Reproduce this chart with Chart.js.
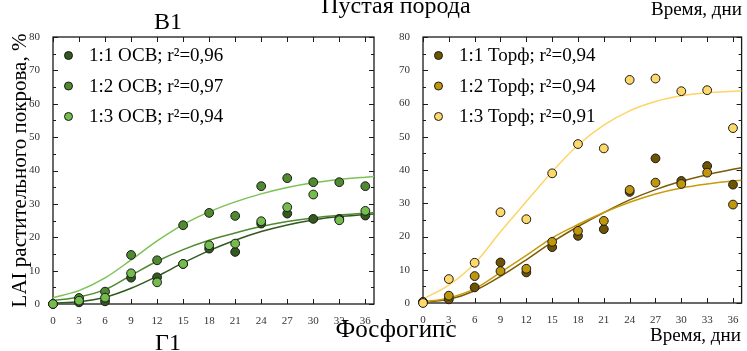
<!DOCTYPE html>
<html>
<head>
<meta charset="utf-8">
<script src="https://cdn.jsdelivr.net/npm/chart.js@4.4.1/dist/chart.umd.min.js"></script>
<style>
  html, body { margin: 0; padding: 0; background: #fff; }
  #page { position: relative; width: 747px; height: 351px; overflow: hidden; font-family: 'Liberation Serif', serif; color: #000; }
  .lbl { position: absolute; white-space: nowrap; line-height: 1; }
  #left { position: absolute; left: 0; top: 0; }
  #right { position: absolute; left: 380px; top: 0; }
</style>
</head>
<body>
<div id="page">
  <canvas id="left" width="380" height="351"></canvas>
  <canvas id="right" width="367" height="351"></canvas>
  <div class="lbl" style="left:296px;width:200px;text-align:center;top:-7px;font-size:24px;">Пустая порода</div>
  <div class="lbl" style="left:118px;width:100px;text-align:center;top:9px;font-size:24px;">В1</div>
  <div class="lbl" style="left:651px;top:-1px;font-size:19px;">Время, дни</div>
  <div class="lbl" style="left:296px;width:200px;text-align:center;top:316px;font-size:25px;">Фосфогипс</div>
  <div class="lbl" style="left:118px;width:100px;text-align:center;top:330px;font-size:24px;">Г1</div>
  <div class="lbl" style="left:650px;top:325px;font-size:19px;">Время, дни</div>
</div>
<script>
// дни наблюдений
const days = [0, 3, 6, 9, 12, 15, 18, 21, 24, 27, 30, 33, 36];
// ОСВ
const osv11 = [0, 0.5, 0.8, 7.9, 8.0, 12.0, 16.6, 15.6, 24.1, 27.1, 25.5, 25.5, 26.5];
const osv12 = [0, 1.8, 3.7, 14.7, 13.1, 23.6, 27.3, 26.4, 35.3, 37.7, 36.5, 36.5, 35.3];
const osv13 = [0, 1.0, 1.9, 9.2, 6.5, 12.0, 17.6, 18.1, 24.8, 29.0, 32.8, 25.1, 27.9];
// Торф
const torf11 = [0.3, 1.1, 4.7, 12.2, 9.2, 16.8, 20.2, 22.2, 33.4, 43.5, 36.7, 41.2, 35.6];
const torf12 = [0.3, 2.2, 8.1, 9.6, 10.3, 18.4, 21.7, 24.7, 34.0, 36.2, 35.8, 39.2, 29.6];
const torf13 = [0, 7.2, 12.1, 27.3, 25.2, 39.0, 47.8, 46.5, 67.1, 67.5, 63.7, 64.0, 52.6];

// аппроксимирующие кривые
const fitX = [0, 3, 6, 9, 12, 15, 18, 21, 24, 27, 30, 33, 36, 37];
const osvFitTop = [1.9, 4.0, 7.8, 13.2, 18.9, 23.8, 27.6, 30.6, 33.0, 34.9, 36.3, 37.3, 38.0, 38.2];
const osvFitMid = [1.0, 2.1, 4.3, 8.6, 12.8, 16.3, 19.1, 21.3, 23.2, 24.7, 25.8, 26.6, 27.2, 27.4];
const osvFitLow = [0.3, 0.7, 2.0, 4.7, 8.3, 12.3, 16.0, 19.1, 21.7, 23.7, 25.2, 26.2, 26.8, 27.0];
const torfFit13 = [1.2, 5.4, 11.9, 21.4, 30.5, 39.5, 47.5, 53.5, 57.8, 60.6, 62.3, 63.2, 63.7, 63.8];
const torfFit11 = [0.2, 1.1, 3.7, 8.0, 13.0, 18.3, 23.0, 27.2, 31.0, 34.1, 36.6, 38.6, 40.2, 40.7];
const torfFit12 = [0.3, 1.5, 4.3, 9.2, 14.3, 19.6, 23.6, 27.2, 30.3, 32.8, 34.6, 35.8, 36.7, 36.9];

const osvLabels = ['1:1 ОСВ; r²=0,96', '1:2 ОСВ; r²=0,97', '1:3 ОСВ; r²=0,94'];
const torfLabels = ['1:1 Торф; r²=0,94', '1:2 Торф; r²=0,94', '1:3 Торф; r²=0,91'];

const osvColors = ['#325a1e', '#4f8a30', '#74bd4c'];
const osvLineColors = ['#325a1e', '#4f8a30', '#7cc255'];
const torfColors = ['#6e5300', '#c0960a', '#fdd86a'];
const torfLineColors = ['#7a5c05', '#c79b0c', '#fdd465'];

const FONT = "'Liberation Serif', serif";

function pts(xs, ys) { return xs.map((x, i) => ({ x: x, y: ys[i] })); }

function pointSet(label, data, color, order) {
    return {
        type: 'scatter', label: label, data: pts(days, data),
        backgroundColor: color, borderColor: '#1a1a1a', borderWidth: 1,
        pointRadius: 4.4, pointHoverRadius: 4.4, order: order, clip: false
    };
}

function lineSet(data, color, order) {
    return {
        type: 'line', data: pts(fitX, data), borderColor: color, borderWidth: 1.5,
        pointRadius: 0, fill: false, showLine: true, cubicInterpolationMode: 'monotone', order: order
    };
}

// рамка и засечки внутрь
const frameTicks = {
    id: 'frameTicks',
    beforeDatasetsDraw(chart) {
        const { ctx, chartArea: a, scales: { x, y } } = chart;
        ctx.save();
        ctx.strokeStyle = '#1a1a1a';
        ctx.lineWidth = 1.3;
        ctx.strokeRect(a.left, a.top, a.width, a.height);
        ctx.lineWidth = 1;
        ctx.beginPath();
        for (let v = 0; v <= 36; v += 3) {
            const px = Math.round(x.getPixelForValue(v)) + 0.5;
            ctx.moveTo(px, a.bottom); ctx.lineTo(px, a.bottom - 5);
            ctx.moveTo(px, a.top); ctx.lineTo(px, a.top + 5);
        }
        for (let v = 0; v <= 80; v += 5) {
            const py = Math.round(y.getPixelForValue(v)) + 0.5;
            const len = v % 10 === 0 ? 5 : 3;
            ctx.moveTo(a.left, py); ctx.lineTo(a.left + len, py);
            ctx.moveTo(a.right, py); ctx.lineTo(a.right - len, py);
        }
        ctx.stroke();
        ctx.restore();
    }
};

// легенда внутри области графика
const innerLegend = {
    id: 'innerLegend',
    afterDraw(chart, args, opts) {
        const { ctx, chartArea: a } = chart;
        ctx.save();
        ctx.font = '19px ' + FONT;
        ctx.textBaseline = 'middle';
        opts.labels.forEach((t, i) => {
            const cy = a.top + 18.5 + i * 30.5;
            ctx.beginPath();
            ctx.arc(a.left + 15.5, cy, 4, 0, Math.PI * 2);
            ctx.fillStyle = opts.colors[i];
            ctx.fill();
            ctx.lineWidth = 1;
            ctx.strokeStyle = '#1a1a1a';
            ctx.stroke();
            ctx.fillStyle = '#000';
            ctx.fillText(t, a.left + 36, cy + 1);
        });
        ctx.restore();
    }
};

function makeChart(id, sets, labels, colors, yWidth, pad, withTitle) {
    return new Chart(document.getElementById(id), {
        data: { datasets: sets },
        plugins: [frameTicks, innerLegend],
        options: {
            responsive: false,
            animation: false,
            layout: { padding: pad },
            plugins: {
                legend: { display: false },
                tooltip: { enabled: false },
                innerLegend: { labels: labels, colors: colors }
            },
            scales: {
                x: {
                    type: 'linear', min: 0, max: 37,
                    grid: { display: false }, border: { display: false },
                    ticks: { stepSize: 3, includeBounds: false, padding: 3, color: '#333', font: { family: FONT, size: 11 }, maxRotation: 0 },
                    afterFit: s => { s.height = 20; }
                },
                y: {
                    min: 0, max: 80,
                    grid: { display: false }, border: { display: false },
                    ticks: { stepSize: 10, padding: 5, color: '#333', font: { family: FONT, size: 11 } },
                    title: {
                        display: withTitle, text: 'LAI растительного покрова, %',
                        color: '#000', font: { family: FONT, size: 21 }, padding: { top: 8, bottom: 0 }
                    },
                    afterFit: s => { s.width = yWidth; }
                }
            }
        }
    });
}

makeChart('left', [
    pointSet(osvLabels[2], osv13, osvColors[2], 1),
    pointSet(osvLabels[1], osv12, osvColors[1], 2),
    pointSet(osvLabels[0], osv11, osvColors[0], 3),
    lineSet(osvFitTop, osvLineColors[2], 4),
    lineSet(osvFitMid, osvLineColors[1], 5),
    lineSet(osvFitLow, osvLineColors[0], 6)
], osvLabels, osvColors, 53, { left: 0, right: 6, top: 37, bottom: 27 }, true);

makeChart('right', [
    pointSet(torfLabels[2], torf13, torfColors[2], 1),
    pointSet(torfLabels[1], torf12, torfColors[1], 2),
    pointSet(torfLabels[0], torf11, torfColors[0], 3),
    lineSet(torfFit13, torfLineColors[2], 4),
    lineSet(torfFit12, torfLineColors[1], 5),
    lineSet(torfFit11, torfLineColors[0], 6)
], torfLabels, torfColors, 43, { left: 0, right: 2, top: 37, bottom: 28 }, false);
</script>
</body>
</html>
